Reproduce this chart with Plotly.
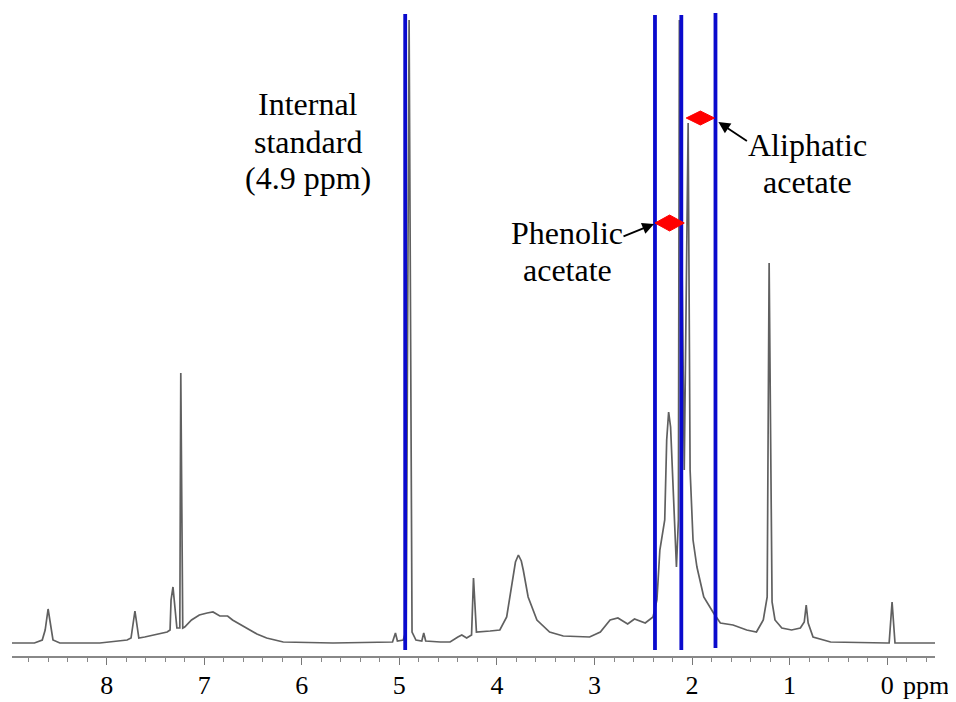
import plotly.graph_objects as go

# ---- spectrum trace (chemical shift ppm, relative intensity) ----
ppm = [8.97, 8.74, 8.66, 8.63, 8.60, 8.57, 8.55, 8.48, 8.07, 7.79, 7.75, 7.71, 7.67, 7.61,
       7.38, 7.35, 7.34, 7.32, 7.30, 7.28, 7.25, 7.24, 7.22, 7.20, 7.13, 7.05, 6.97, 6.91,
       6.84, 6.76, 6.71, 6.64, 6.56, 6.46, 6.36, 6.19, 5.68, 5.07, 5.04, 5.02, 4.96, 4.93,
       4.90, 4.87, 4.83, 4.77, 4.75, 4.73, 4.58, 4.48, 4.40, 4.36, 4.31, 4.26, 4.24, 4.21,
       4.07, 3.97, 3.90, 3.87, 3.83, 3.81, 3.78, 3.75, 3.73, 3.68, 3.59, 3.46, 3.32, 3.05,
       2.94, 2.84, 2.76, 2.66, 2.59, 2.48, 2.40, 2.36, 2.33, 2.28, 2.26, 2.24, 2.22, 2.20,
       2.16, 2.14, 2.13, 2.08, 2.04, 2.02, 1.99, 1.95, 1.88, 1.78, 1.71, 1.58, 1.44, 1.34,
       1.27, 1.23, 1.21, 1.18, 1.15, 1.08, 0.98, 0.89, 0.85, 0.83, 0.81, 0.76, 0.58, 0.00,
       -0.02, -0.05, -0.08, -0.49]
intensity = [13, 13, 16, 26, 47, 26, 16, 13, 13, 16, 18, 45, 18, 19,
             24, 26, 56, 69, 51, 28, 28, 283, 28, 29, 36, 41, 43, 44,
             40, 40, 36, 32, 28, 22, 18, 14, 13, 14, 23, 15, 16, 26,
             636, 24, 16, 15, 23, 15, 14, 14, 19, 21, 18, 21, 78, 24,
             25, 26, 39, 56, 79, 94, 101, 95, 86, 59, 36, 24, 20, 19,
             24, 36, 38, 32, 37, 33, 39, 56, 106, 136, 216, 244, 229, 176,
             89, 136, 636, 186, 533, 186, 116, 89, 59, 43, 33, 31, 26, 24,
             36, 59, 393, 54, 36, 28, 26, 28, 34, 51, 33, 19, 14, 13,
             13, 54, 13, 13]

# ---- integration boundaries (blue lines), ppm ----
boundary_ppm = [4.94, 2.38, 2.11, 1.76]
boundary_top = [642, 641, 641, 643]
boundary_bottom = [6, 6, 6, 8]

# ---- integration range markers (red) ----
marker_names = ["Aliphatic", "Phenolic"]
marker_left = [2.06, 2.38]
marker_right = [1.77, 2.08]
marker_level = [538, 433]
marker_half = [7, 8]

# ---- axis ticks ----
major_ticks = [8, 7, 6, 5, 4, 3, 2, 1, 0]
major_labels = ["8", "7", "6", "5", "4", "3", "2", "1", "0"]

SERIF = "Liberation Serif, Times New Roman, serif"

fig = go.Figure()
fig.add_trace(go.Scatter(x=ppm, y=intensity, mode="lines",
                         line=dict(color="#606060", width=1.7),
                         hoverinfo="skip", showlegend=False))

shapes = []
for xb, yt, yb in zip(boundary_ppm, boundary_top, boundary_bottom):
    shapes.append(dict(type="line", xref="x", yref="y", x0=xb, x1=xb, y0=yb, y1=yt,
                       line=dict(color="#0a0acd", width=3.8)))
for l, r, lv, h in zip(marker_left, marker_right, marker_level, marker_half):
    c = (l + r) / 2
    path = f"M {l},{lv} L {c},{lv + h} L {r},{lv} L {c},{lv - h} Z"
    shapes.append(dict(type="path", xref="x", yref="y", path=path,
                       fillcolor="#ff0000", line=dict(color="#ff0000", width=1)))

annotations = []
def label(text, x, y):
    annotations.append(dict(text=text, x=x, y=y, xref="x", yref="y", showarrow=False,
                            xanchor="center", yanchor="middle",
                            font=dict(family=SERIF, size=32, color="black")))

label("Internal", 5.94, 552)
label("standard", 5.94, 514)
label("(4.9 ppm)", 5.94, 478)
label("Aliphatic", 0.815, 511)
label("acetate", 0.815, 474)
label("Phenolic", 3.28, 423)
label("acetate", 3.28, 386)

# arrows
annotations.append(dict(text="", x=1.73, y=534, xref="x", yref="y", showarrow=True,
                        ax=30, ay=20, arrowhead=2, arrowsize=1.3, arrowwidth=1.8,
                        arrowcolor="black", standoff=0))
annotations.append(dict(text="", x=2.39, y=432, xref="x", yref="y", showarrow=True,
                        ax=-32, ay=13, arrowhead=2, arrowsize=1.3, arrowwidth=1.8,
                        arrowcolor="black", standoff=0))
# unit label
annotations.append(dict(text="ppm", x=1.0, y=0, xref="paper", yref="paper",
                        xanchor="right", yanchor="middle", yshift=-29, xshift=16,
                        showarrow=False,
                        font=dict(family=SERIF, size=26, color="black")))

# the page places the figure 8 px from the top-left corner, so the figure is
# sized to the remaining 948 x 694 visible area
fig.update_layout(
    width=948, height=694,
    margin=dict(l=4, r=21, t=2, b=46, autoexpand=False),
    paper_bgcolor="white", plot_bgcolor="white",
    shapes=shapes, annotations=annotations,
    xaxis=dict(range=[8.97, -0.49], showgrid=False, zeroline=False,
               showline=True, linecolor="#888888", linewidth=2,
               tickmode="array", tickvals=major_ticks, ticktext=major_labels,
               ticks="outside", ticklen=7, tickwidth=1.3, tickcolor="#777777",
               ticklabelstandoff=-2,
               minor=dict(dtick=0.2, tick0=0, ticks="outside", ticklen=4,
                          tickwidth=1.2, tickcolor="#888888"),
               tickfont=dict(family=SERIF, size=26, color="black")),
    yaxis=dict(range=[0, 646], visible=False, fixedrange=True),
)

fig.write_html("out.html")
